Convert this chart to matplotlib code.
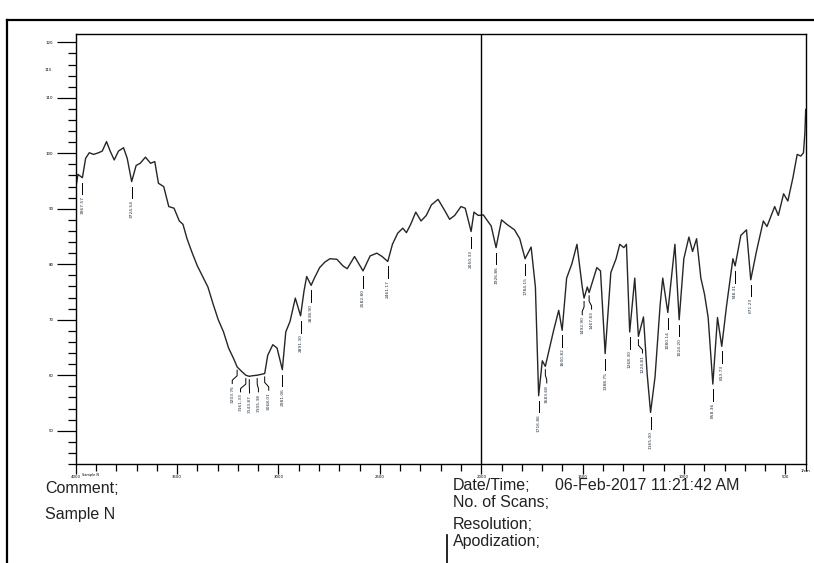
import numpy as np
import matplotlib
matplotlib.use("Agg")
import matplotlib.pyplot as plt
from matplotlib.lines import Line2D
from matplotlib.ticker import MultipleLocator

# 光谱数据 (波数 cm-1, 透过率 %T)
wavenumber = np.array([
    4000, 3989, 3967, 3951, 3933, 3912, 3887, 3869, 3848, 3830,
    3810, 3789, 3764, 3746, 3724, 3702, 3682, 3656, 3631, 3610,
    3592, 3566, 3541, 3515, 3489, 3471, 3451, 3425, 3400, 3374,
    3348, 3323, 3297, 3271, 3246, 3220, 3204, 3182, 3161, 3144,
    3130, 3105, 3068, 3053, 3028, 3007, 2981, 2964, 2943, 2917,
    2891, 2874, 2861, 2839, 2823, 2797, 2771, 2746, 2712, 2682,
    2661, 2625, 2583, 2548, 2515, 2489, 2461, 2438, 2412, 2387,
    2369, 2348, 2323, 2297, 2271, 2246, 2213, 2182, 2156, 2131,
    2100, 2079, 2050, 2036, 2015, 1990, 1951, 1927, 1900, 1874,
    1836, 1810, 1784, 1754, 1733, 1717, 1699, 1684, 1643, 1618,
    1601, 1579, 1553, 1528, 1502, 1493, 1477, 1468, 1430, 1412,
    1389, 1361, 1335, 1317, 1297, 1284, 1268, 1243, 1225, 1200,
    1182, 1165, 1143, 1118, 1105, 1080, 1045, 1024, 1001, 976,
    958, 938, 917, 899, 881, 858, 835, 814, 790, 759,
    748, 720, 692, 671, 643, 609, 591, 553, 535, 509,
    488, 463, 442, 424, 411, 404, 400])
transmittance = np.array([
    93.6, 96.2, 95.6, 99.1, 100.1, 99.8, 100.1, 100.4, 102.1, 100.4,
    98.8, 100.4, 101.0, 99.1, 94.9, 97.8, 98.2, 99.3, 98.2, 98.5,
    94.6, 94.0, 90.4, 90.1, 87.8, 87.2, 84.6, 82.0, 79.7, 77.8,
    75.9, 72.9, 70.0, 67.8, 64.9, 62.9, 61.5, 60.7, 60.0, 59.8,
    59.9, 60.0, 60.3, 63.6, 65.5, 64.9, 61.0, 67.8, 69.7, 73.9,
    70.7, 75.2, 77.8, 76.2, 77.5, 79.4, 80.4, 81.0, 80.9, 79.7,
    79.2, 81.4, 78.8, 81.5, 82.0, 81.4, 80.5, 83.6, 85.6, 86.5,
    85.7, 87.2, 89.4, 87.8, 88.8, 90.7, 91.7, 89.8, 88.1, 88.8,
    90.4, 90.1, 85.9, 89.4, 88.8, 88.9, 86.9, 83.0, 88.0, 87.2,
    86.2, 84.6, 81.0, 83.1, 75.9, 56.3, 62.6, 61.6, 68.1, 71.7,
    68.1, 77.5, 80.1, 83.6, 75.9, 73.9, 75.9, 74.9, 79.4, 78.8,
    63.9, 78.5, 81.0, 83.6, 83.0, 83.6, 67.8, 77.5, 67.0, 70.5,
    60.3, 53.3, 59.7, 72.6, 77.5, 71.3, 83.6, 70.0, 81.0, 84.9,
    82.3, 84.6, 77.5, 74.6, 70.4, 58.4, 70.4, 65.2, 72.6, 81.0,
    79.7, 85.2, 86.2, 77.2, 82.3, 87.8, 86.8, 90.4, 88.8, 92.7,
    91.4, 95.6, 99.8, 99.5, 100.1, 103.7, 107.9])

# 峰标注：峰位, 标签, 标签所在的波数
peak_wn = [3967, 3724, 3204, 3161, 3144, 3105, 3068, 2981, 2891, 2839,
           2583, 2461, 2050, 1927, 1784, 1717, 1684, 1601, 1493, 1468,
           1389, 1268, 1225, 1165, 1080, 1024, 858, 814, 748, 671]
peak_text = ["3967.57", "3724.54", "3203.76", "3161.33", "3143.87", "3105.38",
             "3068.01", "2981.06", "2891.30", "2838.90", "2582.80", "2461.17",
             "2050.33", "1926.86", "1784.15", "1716.86", "1683.68", "1600.82",
             "1492.90", "1467.83", "1388.75", "1268.30", "1224.81", "1165.00",
             "1080.14", "1024.20", "858.36", "813.73", "748.31", "671.23"]
label_wn = [3967, 3724, 3228, 3187, 3143, 3099, 3048, 2981, 2891, 2839,
            2583, 2461, 2050, 1927, 1784, 1717, 1677, 1601, 1502, 1456,
            1389, 1268, 1205, 1165, 1080, 1024, 858, 814, 748, 671]

xticks = [4000, 3500, 3000, 2500, 2000, 1500, 1000, 500]
yticks = [50, 60, 70, 80, 90, 100, 110, 120]

fig = plt.figure(figsize=(8.14, 5.63), dpi=100)
ax = fig.add_axes([75.7 / 814, 1 - 464 / 563, 730 / 814, 430 / 563])

ax.plot(wavenumber, transmittance, color="#262626", lw=1.0)
ax.axvline(2000, color="black", lw=1.0)

ax.set_xlim(4000, 400)
ax.set_ylim(44.0, 121.5)

# 峰位标注
wr = wavenumber[::-1]
tr = transmittance[::-1]
for pw, txt, lw_ in zip(peak_wn, peak_text, label_wn):
    t = np.interp(pw, wr, tr)
    if lw_ == pw:
        ax.plot([pw, pw], [t - 0.9, t - 3.0], color="black", lw=0.7)
    else:
        ax.plot([pw, pw, lw_, lw_], [t - 0.6, t - 1.6, t - 2.4, t - 3.0],
                color="black", lw=0.7)
    ax.text(lw_, t - 3.3, txt, rotation=90, ha="center", va="top",
            fontsize=3.2, color="#203040")

for s in ax.spines.values():
    s.set_linewidth(1.0)

ax.set_xticks(xticks)
ax.set_xticklabels([str(v) for v in xticks], fontsize=2.8)
ax.xaxis.set_minor_locator(MultipleLocator(100))
ax.set_yticks(yticks)
ax.set_yticklabels([str(v) for v in yticks], fontsize=2.8)
ax.yaxis.set_minor_locator(MultipleLocator(2))
ax.tick_params(axis="x", which="major", length=7, width=0.9, pad=1)
ax.tick_params(axis="x", which="minor", length=5, width=0.9)
ax.tick_params(axis="y", which="major", length=14, width=0.9, pad=2)
ax.tick_params(axis="y", which="minor", length=6, width=0.9)

ax.text(-0.032, 115, "115", transform=ax.get_yaxis_transform(),
        fontsize=2.8, ha="right", va="center")
ax.text(400, 44.0, "\n1/cm", fontsize=2.8, ha="center", va="top",
        transform=ax.transData)
fig.text(90 / 814, 1 - 473 / 563, "Sample N", fontsize=2.5, ha="center",
         va="top")

# 外框
fig.add_artist(Line2D([7 / 814, 1.0], [1 - 20 / 563, 1 - 20 / 563],
                      color="black", lw=1.6))
fig.add_artist(Line2D([7 / 814, 7 / 814], [0, 1 - 20 / 563],
                      color="black", lw=1.6))
fig.add_artist(Line2D([447 / 814, 447 / 814], [0, 1 - 535 / 563],
                      color="black", lw=1.2))

# 底部信息
font = dict(fontsize=11.5, family=["Liberation Sans", "DejaVu Sans"],
            color="#222222", va="baseline")
fig.text(45 / 814, 1 - 493 / 563, "Comment;", **font)
fig.text(45 / 814, 1 - 519 / 563, "Sample N", **font)
fig.text(453 / 814, 1 - 490 / 563, "Date/Time;", **font)
fig.text(555 / 814, 1 - 490 / 563, "06-Feb-2017 11:21:42 AM", **font)
fig.text(453 / 814, 1 - 507 / 563, "No. of Scans;", **font)
fig.text(453 / 814, 1 - 529 / 563, "Resolution;", **font)
fig.text(453 / 814, 1 - 546 / 563, "Apodization;", **font)

fig.savefig("out.png", dpi=100)
